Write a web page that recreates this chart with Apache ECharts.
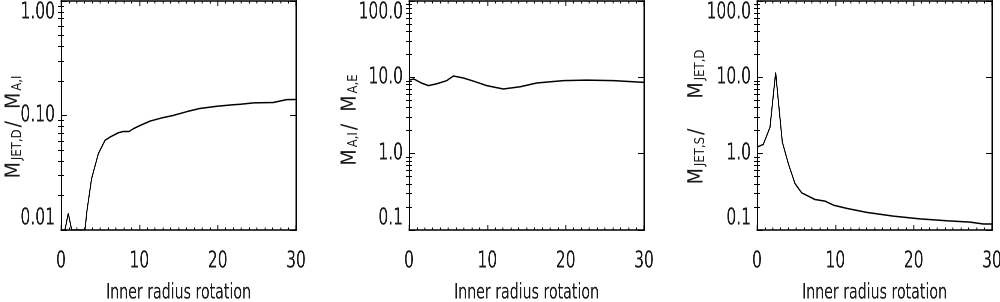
<!DOCTYPE html>
<html>
<head>
<meta charset="utf-8">
<script src="https://cdn.jsdelivr.net/npm/echarts@6/dist/echarts.min.js"></script>
<style>
html,body{margin:0;padding:0;background:#fff;overflow:hidden;}
#wrap{width:1000px;height:302px;overflow:hidden;position:relative;}
#c{height:302px;transform-origin:0 0;position:absolute;left:0;top:0;}
</style>
</head>
<body>
<div id="wrap"><div id="c"></div></div>
<script>
// ---- data ----
const xTickLabels = ['0', '10', '20', '30'];
const xTitle = 'Inner radius rotation';

const radius1 = [0, 0.5, 0.93, 1.36, 3.06, 3.3, 3.9, 4.77, 5.62, 6.26, 7.32, 7.96, 8.68, 9.23, 10.09, 11.36, 12.8, 14.3, 16.05, 17.7, 19.9, 22, 22.9, 24.6, 27.1, 28.8, 29.9, 30];
const ratioJetDAI = [0.01, 0.01, 0.014, 0.01, 0.01, 0.0145, 0.028, 0.0465, 0.0607, 0.0648, 0.0707, 0.0725, 0.0725, 0.0766, 0.0818, 0.0893, 0.095, 0.1, 0.108, 0.115, 0.1205, 0.124, 0.1255, 0.129, 0.13, 0.1375, 0.138, 0.138];

const radius2 = [0, 0.64, 1.5, 2.47, 3.5, 4.8, 5.66, 6.94, 8.4, 9.92, 12.04, 14.2, 16.3, 19.7, 22.7, 26.1, 30];
const ratioAIAE = [9.2, 9.5, 8.5, 7.78, 8.2, 9.04, 10.4, 9.8, 8.8, 7.78, 7.04, 7.53, 8.43, 9.04, 9.2, 9.04, 8.6];

const radius3 = [0, 0.8, 1.66, 2.38, 2.72, 3.23, 4.0, 4.85, 5.7, 7.4, 8.68, 9.74, 11.45, 14, 17.4, 20.8, 24.2, 27.2, 28.9, 30];
const ratioJetSJetD = [1.22, 1.32, 2.22, 11.6, 4.95, 1.42, 0.74, 0.406, 0.307, 0.251, 0.239, 0.212, 0.192, 0.170, 0.152, 0.140, 0.132, 0.127, 0.12, 0.12];

const yRange1 = [0.01, 1];
const yRange23 = [0.1, 100];
const yDigits1 = 2;
const yDigits23 = 1;

const yTitle1 = '{m|M}{s|JET,D}{m|/  M}{s|A,I}';
const yTitle2 = '{m|M}{s|A,I}{m|/  M}{s|A,E}';
const yTitle3 = '{m|M}{s|JET,S}{m|/     M}{s|JET,D}';

// ---- layout / styling ----
// The reference uses a very narrow font; the whole chart is drawn wider and
// squeezed horizontally by CSS so that the text gets the same narrow look.
const SQ = 0.75;
const X = v => v / SQ;              // screen px -> drawing px (horizontal)
const el = document.getElementById('c');
el.style.width = X(1000) + 'px';
el.style.transform = 'scaleX(' + SQ + ')';

const FONT = "'DejaVu Sans Condensed', 'DejaVu Sans', sans-serif";
const TXT = '#1a1a1a';
const panels = [
  {left: 61, x: radius1, y: ratioJetDAI, range: yRange1, digits: yDigits1, title: yTitle1, tx: 14, ty: 126},
  {left: 409, x: radius2, y: ratioAIAE, range: yRange23, digits: yDigits23, title: yTitle2, tx: 350, ty: 119},
  {left: 757, x: radius3, y: ratioJetSJetD, range: yRange23, digits: yDigits23, title: yTitle3, tx: 697, ty: 116}
];
const GW = 235, GTOP = 1, GH = 229;

// minor log ticks (2..9 x 10^k) inside a range
function logMinors(range) {
  const out = [];
  const d0 = Math.round(Math.log10(range[0])), d1 = Math.round(Math.log10(range[1]));
  for (let d = d0; d < d1; d++) {
    for (let m = 2; m <= 9; m++) out.push(Number((m * Math.pow(10, d)).toPrecision(6)));
  }
  return out;
}

const grid = [], xAxis = [], yAxis = [], series = [], graphic = [];
const lineCol = '#000';
panels.forEach((p, i) => {
  grid.push({left: X(p.left), width: X(GW), top: GTOP, height: GH, containLabel: false, outerBoundsMode: 'none'});
  const xCommon = {
    type: 'value', gridIndex: i, min: 0, max: 30, interval: 10,
    axisLine: {show: true, onZero: false, lineStyle: {color: lineCol, width: 1.5}},
    axisTick: {show: true, inside: true, length: 5, lineStyle: {color: lineCol, width: 1.3}},
    minorTick: {show: true, splitNumber: 10, length: 2.5, lineStyle: {color: lineCol, width: 1.3}},
    splitLine: {show: false}
  };
  xAxis.push(Object.assign({}, xCommon, {
    position: 'bottom',
    axisLabel: {show: true, margin: 20, fontFamily: FONT, fontSize: 23, color: TXT,
      formatter: v => xTickLabels[Math.round(v / 10)]}
  }));
  xAxis.push(Object.assign({}, xCommon, {position: 'top', axisLabel: {show: false}}));
  const yCommon = {
    type: 'log', logBase: 10, gridIndex: i, min: p.range[0], max: p.range[1],
    axisLine: {show: true, onZero: false, lineStyle: {color: lineCol, width: 2}},
    axisTick: {show: true, inside: true, length: X(6), lineStyle: {color: lineCol}},
    minorTick: {show: false},
    splitLine: {show: false}
  };
  yAxis.push(Object.assign({}, yCommon, {
    position: 'left',
    axisLabel: {show: true, margin: X(6), fontFamily: FONT, fontSize: 23, color: TXT,
      formatter: v => Number(v).toFixed(p.digits),
      verticalAlignMinLabel: 'bottom', verticalAlignMaxLabel: 'top'}
  }));
  yAxis.push(Object.assign({}, yCommon, {position: 'right', axisLabel: {show: false}}));
  const minors = logMinors(p.range);
  ['left', 'right'].forEach(pos => {
    yAxis.push(Object.assign({}, yCommon, {
      position: pos,
      axisLine: {show: false},
      axisLabel: {show: false},
      axisTick: {show: true, inside: true, length: X(3), customValues: minors, lineStyle: {color: lineCol}}
    }));
  });
  series.push({
    type: 'line', xAxisIndex: 2 * i, yAxisIndex: 4 * i,
    data: p.x.map((xv, k) => [xv, p.y[k]]),
    showSymbol: false, symbol: 'none', clip: true, animation: false,
    lineStyle: {color: '#000', width: 1.5}
  });
  // axis titles
  graphic.push({
    type: 'text', x: X(p.left + GW / 2), y: 293,
    style: {text: xTitle, fontFamily: FONT, fontSize: 21, fill: TXT, align: 'center', verticalAlign: 'middle'}
  });
  graphic.push({
    type: 'text', x: X(p.tx), y: p.ty, rotation: Math.PI / 2, scaleY: 1 / SQ,
    style: {
      text: p.title, align: 'center', verticalAlign: 'middle', fill: TXT, fontFamily: FONT,
      rich: {
        m: {fontFamily: FONT, fontSize: 21, fill: TXT, lineHeight: 24, verticalAlign: 'middle'},
        s: {fontFamily: FONT, fontSize: 13, fill: TXT, lineHeight: 24, verticalAlign: 'bottom', padding: [0, 2, 2, 2]}
      }
    }
  });
});

const chart = echarts.init(el, null, {renderer: 'canvas', devicePixelRatio: 2, width: X(1000), height: 302});
chart.setOption({
  backgroundColor: '#fff',
  animation: false,
  grid, xAxis, yAxis, series, graphic
});
</script>
</body>
</html>
